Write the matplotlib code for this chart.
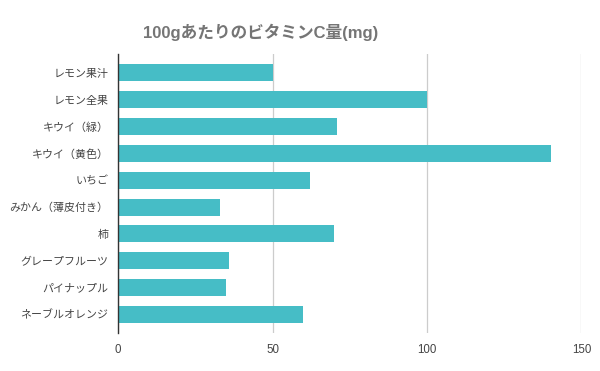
import matplotlib
matplotlib.use("Agg")
import matplotlib.pyplot as plt

plt.rcParams['font.family'] = ['Liberation Sans', 'Noto Sans CJK JP', 'DejaVu Sans']

# データ（100gあたりのビタミンC量, mg）
fruits = ['レモン果汁', 'レモン全果', 'キウイ（緑）', 'キウイ（黄色）', 'いちご',
          'みかん（薄皮付き）', '柿', 'グレープフルーツ', 'パイナップル', 'ネーブルオレンジ']
vitamin_c = [50, 100, 71, 140, 62, 33, 70, 36, 35, 60]
x_ticks = [0, 50, 100, 150]

fig = plt.figure(figsize=(6, 3.71), dpi=100)
ax = fig.add_axes([0.197, 0.102, 0.772, 0.752])

pos = list(range(len(fruits)))
ax.barh(pos, vitamin_c, height=0.63, color='#46bdc6', zorder=3)

ax.set_ylim(len(fruits) - 0.3, -0.7)
ax.set_xlim(0, 150)
ax.set_yticks(pos)
ax.set_yticklabels(fruits, fontsize=7.9, color='#444444')
ax.set_xticks(x_ticks)
ax.set_xticklabels([str(t) for t in x_ticks], fontsize=8.3, color='#444444')
ax.tick_params(axis='both', length=0)
ax.tick_params(axis='y', pad=7)
ax.tick_params(axis='x', pad=8)

ax.grid(axis='x', color='#cccccc', linewidth=0.9, zorder=0)
for s in ['top', 'right', 'bottom']:
    ax.spines[s].set_visible(False)
ax.spines['left'].set_color('#333333')
ax.spines['left'].set_linewidth(1.0)
ax.spines['left'].set_zorder(4)

fig.text(0.435, 0.913, '100gあたりのビタミンC量(mg)', ha='center', va='center',
         fontsize=12, fontweight='bold', color='#757575')

fig.savefig('out.png', dpi=100)
